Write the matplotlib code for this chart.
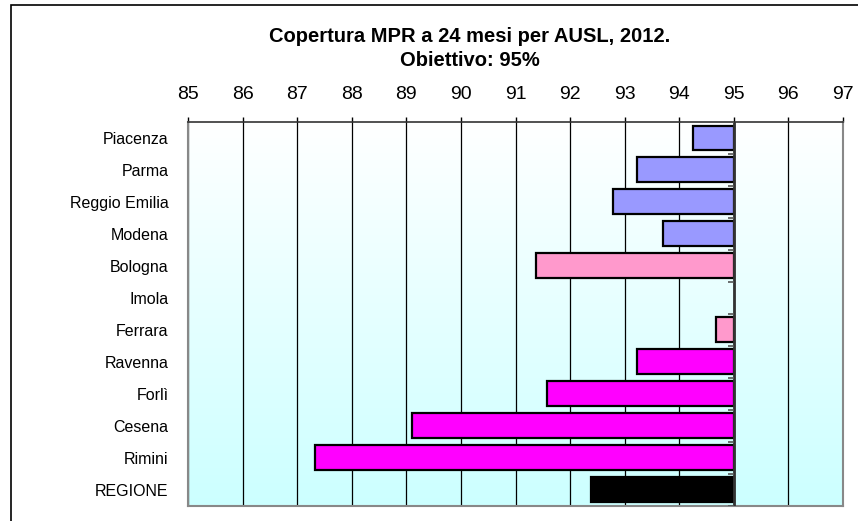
import numpy as np
import matplotlib
matplotlib.use("Agg")
import matplotlib.pyplot as plt
from matplotlib.patches import Rectangle

plt.rcParams['font.family'] = ['Liberation Sans', 'DejaVu Sans']

# dati (copertura %, Imola senza barra)
ausl = ["Piacenza", "Parma", "Reggio Emilia", "Modena", "Bologna", "Imola",
        "Ferrara", "Ravenna", "Forlì", "Cesena", "Rimini", "REGIONE"]
copertura = [94.25, 93.23, 92.78, 93.70, 91.38, np.nan,
             94.68, 93.23, 91.58, 89.10, 87.33, 92.38]
colori = ["#9999FF", "#9999FF", "#9999FF", "#9999FF", "#FF99CC", "#FF99CC",
          "#FF99CC", "#FF00FF", "#FF00FF", "#FF00FF", "#FF00FF", "#000000"]
obiettivo = 95
xticks = list(range(85, 98))

fig = plt.figure(figsize=(8.58, 5.21), dpi=100)
ax = fig.add_axes([188 / 858, 1 - 505.7 / 521, 655 / 858, (505.7 - 122) / 521])

# sfondo sfumato bianco -> azzurro
grad = np.linspace(0, 1, 256).reshape(-1, 1)
cmap = matplotlib.colors.LinearSegmentedColormap.from_list("bg", ["#FFFFFF", "#CCFFFF"])
ax.imshow(grad, extent=[0, 1, 0, 1], transform=ax.transAxes, cmap=cmap,
          aspect="auto", origin="upper", zorder=0)

y = np.arange(len(ausl))
for i, (v, c) in enumerate(zip(copertura, colori)):
    if np.isnan(v):
        continue
    ax.barh(i, obiettivo - v, left=v, height=0.78, color=c,
            edgecolor="black", linewidth=1.6, zorder=3)

for t in xticks:
    ax.axvline(t, color="black", linewidth=0.9, zorder=1)
ax.axvline(obiettivo, color="#333333", linewidth=2, zorder=4)
ax.hlines(np.arange(len(ausl) + 1) - 0.5, obiettivo - 0.1, obiettivo,
          color="#555555", linewidth=1.2, zorder=4)

ax.set_xlim(85, 97)
ax.set_ylim(len(ausl) - 0.5, -0.5)
ax.xaxis.tick_top()
ax.set_xticks(xticks)
ax.set_xticklabels([str(t) for t in xticks], fontsize=14)
ax.tick_params(axis="x", direction="out", length=3.6, width=1, color="black", pad=10)
ax.set_yticks(y)
ax.set_yticklabels(ausl, fontsize=11.5)
ax.tick_params(axis="y", length=0, pad=14)

for s in ["left", "right", "bottom"]:
    ax.spines[s].set_color("#888888")
    ax.spines[s].set_linewidth(1.5)
ax.spines["top"].set_color("#333333")
ax.spines["top"].set_linewidth(1.2)

fig.text(470 / 858, 1 - 36 / 521, "Copertura MPR a 24 mesi per AUSL, 2012.",
         ha="center", va="center", fontsize=14.5, fontweight="bold")
fig.text(470 / 858, 1 - 61 / 521, "Obiettivo: 95%",
         ha="center", va="center", fontsize=14.5, fontweight="bold")

fig.patches.append(Rectangle((11 / 858, -0.1), 1.0, 1.1 - 5 / 521,
                             transform=fig.transFigure, fill=False,
                             edgecolor="black", linewidth=1.2))

fig.savefig("out.png", dpi=100)
